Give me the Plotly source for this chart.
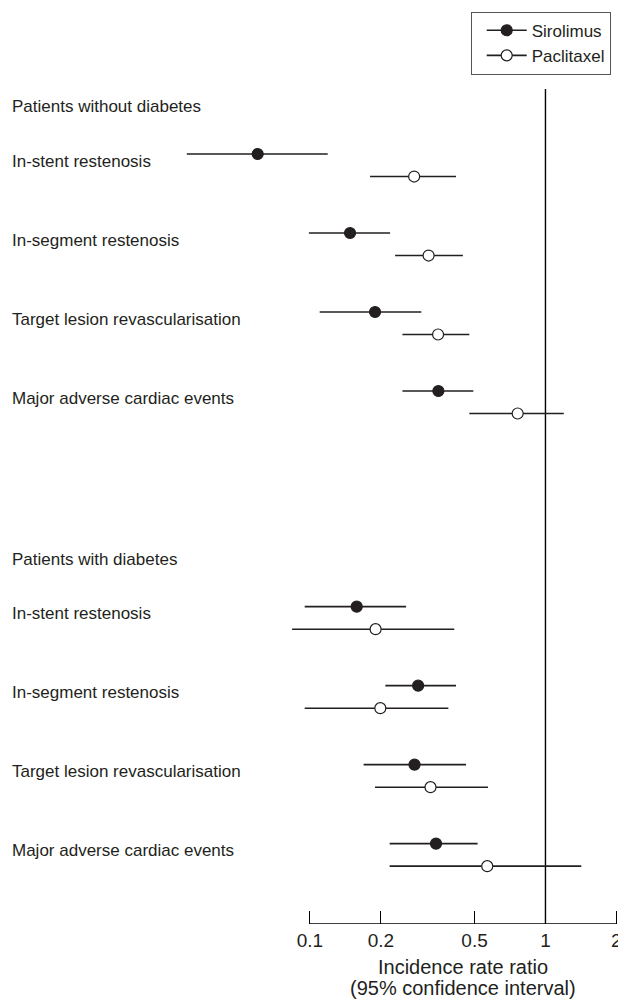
import math
import plotly.graph_objects as go

# ---------------- data ----------------
GROUPS = ["Patients without diabetes", "Patients with diabetes"]
OUTCOMES = ["In-stent restenosis", "In-segment restenosis",
            "Target lesion revascularisation", "Major adverse cardiac events"]
SERIES = ["Sirolimus", "Paclitaxel"]

# Patients without diabetes
sir_nd_est = [0.060, 0.148, 0.189, 0.351]
sir_nd_lo = [0.030, 0.099, 0.110, 0.247]
sir_nd_hi = [0.119, 0.219, 0.297, 0.494]
pac_nd_est = [0.277, 0.319, 0.350, 0.762]
pac_nd_lo = [0.180, 0.230, 0.247, 0.475]
pac_nd_hi = [0.417, 0.446, 0.475, 1.196]

# Patients with diabetes
sir_d_est = [0.158, 0.288, 0.278, 0.343]
sir_d_lo = [0.095, 0.209, 0.169, 0.218]
sir_d_hi = [0.256, 0.417, 0.460, 0.515]
pac_d_est = [0.190, 0.199, 0.325, 0.566]
pac_d_lo = [0.084, 0.095, 0.189, 0.218]
pac_d_hi = [0.410, 0.387, 0.570, 1.419]

TICK_VALS = [0.1, 0.2, 0.5, 1, 2]
TICK_TEXT = ["0.1", "0.2", "0.5", "1", "2"]
X_TITLE = ["Incidence rate ratio", "(95% confidence interval)"]

# ---------------- layout constants ----------------
FONT = "Liberation Sans"
INK = "#231f20"
W, H = 618, 999
M_TOP, M_BOT = 89, 75
GROUP_OFFSET = [0.0, 5.73]     # row units
PAC_SHIFT = 0.285
LABEL_DY = 0.09
HEADER_DY = -0.6
Y_RANGE = [9.747, -0.823]      # reversed
X_RANGE = [-2.316, 0.308]      # log10

data = {
    ("Sirolimus", 0): (sir_nd_est, sir_nd_lo, sir_nd_hi),
    ("Paclitaxel", 0): (pac_nd_est, pac_nd_lo, pac_nd_hi),
    ("Sirolimus", 1): (sir_d_est, sir_d_lo, sir_d_hi),
    ("Paclitaxel", 1): (pac_d_est, pac_d_lo, pac_d_hi),
}

fig = go.Figure()

# reference line at 1
fig.add_trace(go.Scatter(x=[1, 1], y=[Y_RANGE[1], Y_RANGE[0]], mode="lines",
                         line=dict(color="black", width=1.4),
                         showlegend=False, hoverinfo="skip"))
# axis line from 0.1 to 2
fig.add_trace(go.Scatter(x=[TICK_VALS[0], TICK_VALS[-1]], y=[Y_RANGE[0], Y_RANGE[0]],
                         mode="lines", line=dict(color="black", width=1.6),
                         cliponaxis=False, showlegend=False, hoverinfo="skip"))

for s in SERIES:
    filled = s == "Sirolimus"
    for g in range(len(GROUPS)):
        est, lo, hi = data[(s, g)]
        ys = [GROUP_OFFSET[g] + i + (0 if filled else PAC_SHIFT) for i in range(len(OUTCOMES))]
        fig.add_trace(go.Scatter(
            x=est, y=ys, mode="markers",
            marker=dict(size=11, color=INK if filled else "white",
                        line=dict(color=INK, width=1.2)),
            error_x=dict(type="data", symmetric=False,
                         array=[h - e for h, e in zip(hi, est)],
                         arrayminus=[e - l for e, l in zip(est, lo)],
                         width=0, thickness=1.6, color=INK),
            showlegend=False, cliponaxis=False, name=s))
    # legend entry
    fig.add_trace(go.Scatter(
        x=[None], y=[None], mode="lines+markers", name=s,
        line=dict(color=INK, width=1.6),
        marker=dict(size=11, color=INK if filled else "white",
                    line=dict(color=INK, width=1.2))))

annotations = []
for g, grp in enumerate(GROUPS):
    annotations.append(dict(x=10 / W, xref="paper", y=GROUP_OFFSET[g] + HEADER_DY, yref="y",
                            text=grp, showarrow=False, xanchor="left", yanchor="middle",
                            font=dict(family=FONT, size=17, color=INK)))
    for i, oc in enumerate(OUTCOMES):
        annotations.append(dict(x=10 / W, xref="paper", y=GROUP_OFFSET[g] + i + LABEL_DY, yref="y",
                                text=oc, showarrow=False, xanchor="left", yanchor="middle",
                                font=dict(family=FONT, size=17, color=INK)))

x_mid = math.log10(math.sqrt(TICK_VALS[0] * TICK_VALS[-1]))
plot_h = H - M_TOP - M_BOT
for k, (t, py) in enumerate(zip(X_TITLE, [966.7, 988])):
    annotations.append(dict(x=x_mid, xref="x", y=(H - M_BOT - py) / plot_h, yref="paper",
                            text=t, showarrow=False, xanchor="center", yanchor="middle",
                            font=dict(family=FONT, size=20, color=INK)))

fig.update_layout(
    width=W, height=H,
    margin=dict(l=0, r=0, t=M_TOP, b=M_BOT, autoexpand=False),
    paper_bgcolor="white", plot_bgcolor="white",
    font=dict(family=FONT, color=INK),
    xaxis=dict(type="log", range=X_RANGE, tickvals=TICK_VALS, ticktext=TICK_TEXT,
               automargin=False,
               ticks="inside", ticklen=13, tickwidth=1.3, tickcolor="black",
               ticklabelstandoff=3, ticklabeloverflow="allow",
               showgrid=False, zeroline=False, showline=False,
               tickfont=dict(family=FONT, size=19, color=INK)),
    yaxis=dict(range=Y_RANGE, visible=False, showgrid=False, zeroline=False, automargin=False),
    legend=dict(x=470.7 / W, y=(H - M_BOT - 11.7) / plot_h, xanchor="left", yanchor="top",
                bordercolor="#555", borderwidth=1, bgcolor="white",
                font=dict(family=FONT, size=17, color=INK),
                indentation=10, itemwidth=40),
    annotations=annotations,
    showlegend=True,
)

fig.write_html("out.html", config={"displayModeBar": False},
               post_script="document.body.style.margin='0px';document.body.style.overflow='hidden';")
